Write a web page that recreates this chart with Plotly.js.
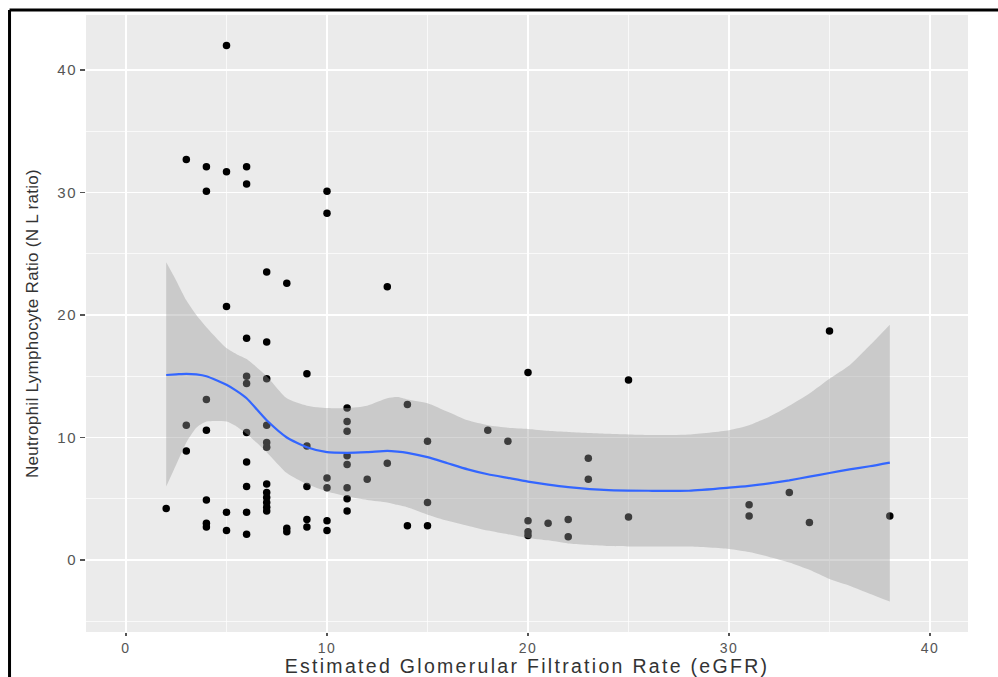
<!DOCTYPE html>
<html>
<head>
<meta charset="utf-8">
<script src="https://cdn.plot.ly/plotly-3.0.1.min.js"></script>
<style>
  html, body { margin: 0; padding: 0; background: #ffffff; }
  #chart { width: 998px; height: 677px; }
  text.xtitle { letter-spacing: 2.3px; }
  text.ytitle { letter-spacing: 0.3px; }
  .xtick text, .ytick text { letter-spacing: 1.5px; }
</style>
</head>
<body>
<div id="chart"></div>
<script>
// Observed points: eGFR (x) and Neutrophil Lymphocyte Ratio (y)
const egfr = [
  2,
  3, 3, 3,
  4, 4, 4, 4, 4, 4, 4,
  5, 5, 5, 5, 5,
  6, 6, 6, 6, 6, 6, 6, 6, 6, 6,
  7, 7, 7, 7, 7, 7, 7, 7, 7, 7, 7, 7,
  8, 8, 8,
  9, 9, 9, 9, 9,
  10, 10, 10, 10, 10, 10,
  11, 11, 11, 11, 11, 11, 11, 11,
  12,
  13, 13,
  14, 14,
  15, 15, 15,
  18,
  19,
  20, 20, 20, 20,
  21,
  22, 22,
  23, 23,
  25, 25,
  31, 31,
  33,
  34,
  35,
  38
];
const nlRatio = [
  4.2,
  32.7, 11.0, 8.9,
  32.1, 30.1, 13.1, 10.6, 4.9, 3.0, 2.7,
  42.0, 31.7, 20.7, 3.9, 2.4,
  32.1, 30.7, 18.1, 15.0, 14.4, 10.4, 8.0, 6.0, 3.9, 2.1,
  23.5, 17.8, 14.8, 11.0, 9.6, 9.2, 6.2, 5.5, 5.1, 4.7, 4.3, 4.0,
  22.6, 2.6, 2.3,
  15.2, 9.3, 6.0, 3.3, 2.7,
  30.1, 28.3, 6.7, 5.9, 3.2, 2.4,
  12.4, 11.3, 10.5, 8.5, 7.8, 5.9, 5.0, 4.0,
  6.6,
  22.3, 7.9,
  12.7, 2.8,
  9.7, 4.7, 2.8,
  10.6,
  9.7,
  15.3, 3.2, 2.3, 2.0,
  3.0,
  3.3, 1.9,
  8.3, 6.6,
  14.7, 3.5,
  4.5, 3.6,
  5.5,
  3.05,
  18.7,
  3.6
];

// Smoothed fit (loess) and its confidence band
const smoothX = [2, 2.5, 3, 3.5, 4, 5, 5.5, 6, 7, 8, 9, 10, 11, 12, 13, 13.5, 14, 15, 16, 17, 18, 19, 20, 21, 22, 24, 26, 28, 30, 31, 32, 33, 34, 35, 36, 37, 38];
const smoothFit = [15.1, 15.15, 15.2, 15.15, 15.0, 14.3, 13.8, 13.2, 11.4, 10.0, 9.2, 8.8, 8.75, 8.8, 8.9, 8.85, 8.75, 8.4, 7.9, 7.4, 7.0, 6.7, 6.4, 6.15, 5.95, 5.7, 5.65, 5.65, 5.9, 6.05, 6.25, 6.5, 6.8, 7.1, 7.4, 7.65, 7.95];
const smoothHigh = [24.3, 22.8, 21.2, 20.0, 19.0, 17.3, 16.8, 16.4, 15.0, 13.2, 12.6, 12.4, 12.4, 12.6, 13.2, 13.3, 13.1, 12.8, 12.1, 11.4, 11.0, 10.8, 10.7, 10.55, 10.45, 10.3, 10.2, 10.25, 10.6, 11.0, 11.7, 12.6, 13.6, 14.8, 15.9, 17.5, 19.2];
const smoothLow = [6.0, 7.8, 9.6, 10.8, 11.3, 11.3, 10.9, 10.3, 8.8, 7.1, 6.2, 5.6, 5.2, 4.9, 4.7, 4.5, 4.3, 3.7, 3.2, 2.8, 2.4, 2.1, 1.8, 1.6, 1.35, 1.15, 1.1, 1.1, 0.9, 0.65, 0.25, -0.2, -0.8, -1.55, -2.1, -2.75, -3.4];

const xTicks = [0, 10, 20, 30, 40];
const yTicks = [0, 10, 20, 30, 40];

const xTitle = "Estimated Glomerular Filtration Rate (eGFR)";
const yTitle = "Neutrophil Lymphocyte Ratio (N L ratio)";

const traces = [
  {
    type: "scatter", mode: "markers",
    x: egfr, y: nlRatio,
    marker: { color: "#000000", size: 7.5 },
    hoverinfo: "skip"
  },
  {
    type: "scatter", mode: "lines",
    x: smoothX, y: smoothLow,
    line: { width: 0, color: "rgba(0,0,0,0)", shape: "spline", smoothing: 0.6 },
    hoverinfo: "skip"
  },
  {
    type: "scatter", mode: "lines",
    x: smoothX, y: smoothHigh,
    fill: "tonexty", fillcolor: "rgba(153,153,153,0.4)",
    line: { width: 0, color: "rgba(0,0,0,0)", shape: "spline", smoothing: 0.6 },
    hoverinfo: "skip"
  },
  {
    type: "scatter", mode: "lines",
    x: smoothX, y: smoothFit,
    line: { color: "#3366FF", width: 2.2, shape: "spline", smoothing: 0.6 },
    hoverinfo: "skip"
  }
];

const font = "Liberation Sans, Arial, sans-serif";

const layout = {
  width: 998, height: 677,
  margin: { l: 86, r: 30, t: 15, b: 45 },
  paper_bgcolor: "#ffffff",
  plot_bgcolor: "#EBEBEB",
  showlegend: false,
  hovermode: false,
  font: { family: font, color: "#4D4D4D" },
  xaxis: {
    range: [-1.99, 41.89],
    tickvals: xTicks, ticktext: xTicks.map(String),
    ticks: "outside", ticklen: 3, tickwidth: 1.2, tickcolor: "#555555",
    tickfont: { family: font, size: 14, color: "#555555" },
    showgrid: true, gridcolor: "#FFFFFF", gridwidth: 1.5,
    minor: { tick0: 5, dtick: 10, showgrid: true, gridcolor: "#FFFFFF", gridwidth: 0.7, ticks: "" },
    zeroline: false, showline: false, automargin: false,
    title: { text: xTitle, font: { family: font, size: 19.5, color: "#333333" }, standoff: 5 }
  },
  yaxis: {
    range: [-5.88, 44.49],
    tickvals: yTicks, ticktext: yTicks.map(String),
    ticks: "outside", ticklen: 5, tickwidth: 1.2, tickcolor: "#555555",
    tickfont: { family: font, size: 15, color: "#555555" },
    showgrid: true, gridcolor: "#FFFFFF", gridwidth: 1.5,
    minor: { tick0: 5, dtick: 10, showgrid: true, gridcolor: "#FFFFFF", gridwidth: 0.7, ticks: "" },
    zeroline: false, showline: false, automargin: false,
    title: { text: yTitle, font: { family: font, size: 17, color: "#333333" }, standoff: 14 }
  },
  shapes: [
    { type: "line", xref: "paper", yref: "paper", x0: -0.0867, x1: 1.05, y0: 1.0081, y1: 1.0081,
      line: { color: "#000000", width: 3 }, layer: "above" },
    { type: "line", xref: "paper", yref: "paper", x0: -0.0867, x1: -0.0867, y0: 1.0081, y1: -0.08,
      line: { color: "#000000", width: 3 }, layer: "above" }
  ]
};

Plotly.newPlot("chart", traces, layout, { displayModeBar: false, staticPlot: true });
</script>
</body>
</html>
